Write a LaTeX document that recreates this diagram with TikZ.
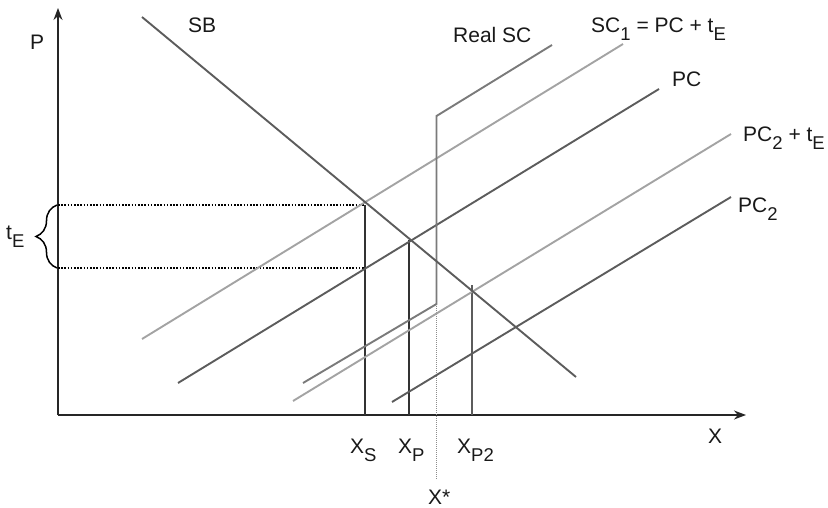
\documentclass[tikz,border=0pt]{standalone}
\usepackage{fontspec}
\setmainfont{Liberation Sans}
\usetikzlibrary{decorations.pathreplacing,arrows.meta}
\newcommand{\lowsub}[1]{\raisebox{-8pt}{\fontsize{18.5}{20}\selectfont #1}}
\definecolor{darkc}{gray}{0.36}
\definecolor{lightc}{gray}{0.64}
\definecolor{midc}{gray}{0.48}
\definecolor{txt}{gray}{0.1}
\begin{document}
\begin{tikzpicture}[x=1pt,y=-1pt,
  lbl/.style={font=\fontsize{21}{24}\selectfont, inner sep=0pt, anchor=base west, text=txt},
  axisline/.style={line width=1.5pt, black!85, -{Stealth[length=12pt,width=9pt]}},
  darkcurve/.style={line width=1.9pt, darkc},
  lightcurve/.style={line width=1.9pt, lightc},
  realcurve/.style={line width=1.9pt, midc},
  guide/.style={line width=1.2pt, black!80},
  dotline/.style={line width=1.6pt, black, dash pattern=on 1.6pt off 1.6pt},
  stardot/.style={line width=0.7pt, black!45, dash pattern=on 1pt off 1pt}]
\useasboundingbox (0,0) rectangle (828,508);
% coordinates
\coordinate (O) at (58,415);
\coordinate (Ptop) at (58,8);
\coordinate (Xend) at (746,415);
\coordinate (sb1) at (142,17);
\coordinate (sb2) at (576,377);
\coordinate (sc1a) at (142,339);
\coordinate (sc1b) at (623,44);
\coordinate (pca) at (178,383);
\coordinate (pcb) at (659,89);
\coordinate (pt2a) at (293,401);
\coordinate (pt2b) at (731,134);
\coordinate (pc2a) at (392,402);
\coordinate (pc2b) at (731,197);
\coordinate (rs1) at (303,383);
\coordinate (rs2) at (436.5,304);
\coordinate (rs3) at (436.5,116);
\coordinate (rs4) at (552,45);
\coordinate (yhi) at (58,205);
\coordinate (ylo) at (58,268);
\coordinate (xshi) at (365,205);
\coordinate (xsdot) at (365,268);
\coordinate (xsb) at (365,415);
\coordinate (xphi) at (409,240);
\coordinate (xpb) at (409,415);
\coordinate (xp2hi) at (472,285);
\coordinate (xp2b) at (472,415);
\coordinate (xst) at (436.5,480);
\coordinate (bra) at (57,268);
\coordinate (brb) at (57,205);
% axes
\draw[axisline] (O) -- (Ptop);
\draw[axisline] (O) -- (Xend);
% dotted guides
\draw[dotline] (yhi) -- (xshi);
\draw[dotline] (ylo) -- (xsdot);
\draw[stardot] (rs2) -- (xst);
% vertical guides
\draw[guide] (xshi) -- (xsb);
\draw[guide] (xphi) -- (xpb);
\draw[guide, darkc, line width=1.5pt] (xp2hi) -- (xp2b);
% curves
\draw[lightcurve] (sc1a) -- (sc1b);
\draw[lightcurve] (pt2a) -- (pt2b);
\draw[darkcurve] (pca) -- (pcb);
\draw[darkcurve] (pc2a) -- (pc2b);
\draw[realcurve] (rs1) -- (rs2) -- (rs3) -- (rs4);
\draw[darkcurve] (sb1) -- (sb2);
% brace
\draw[line width=1.5pt, black, decorate, decoration={brace, amplitude=21pt}] (bra) -- (brb);
% labels
\node[lbl] (lP) at (30,50) {P};
\node[lbl] (lSB) at (188,33) {SB};
\node[lbl] (lReal) at (453,43) {Real SC};
\node[lbl] (lSC1) at (591,33) {SC\lowsub{1} = PC + t\lowsub{E}};
\node[lbl] (lPC) at (672,87) {PC};
\node[lbl] (lPC2t) at (743,142) {PC\lowsub{2} + t\lowsub{E}};
\node[lbl] (lPC2) at (738,213) {PC\lowsub{2}};
\node[lbl] (ltE) at (6,240) {t\lowsub{E}};
\node[lbl] (lX) at (708,443) {X};
\node[lbl] (lXS) at (350,453) {X\lowsub{S}};
\node[lbl] (lXP) at (398,453) {X\lowsub{P}};
\node[lbl] (lXP2) at (457,453) {X\lowsub{P2}};
\node[lbl] (lXst) at (428,504) {X*};
\end{tikzpicture}
\end{document}
